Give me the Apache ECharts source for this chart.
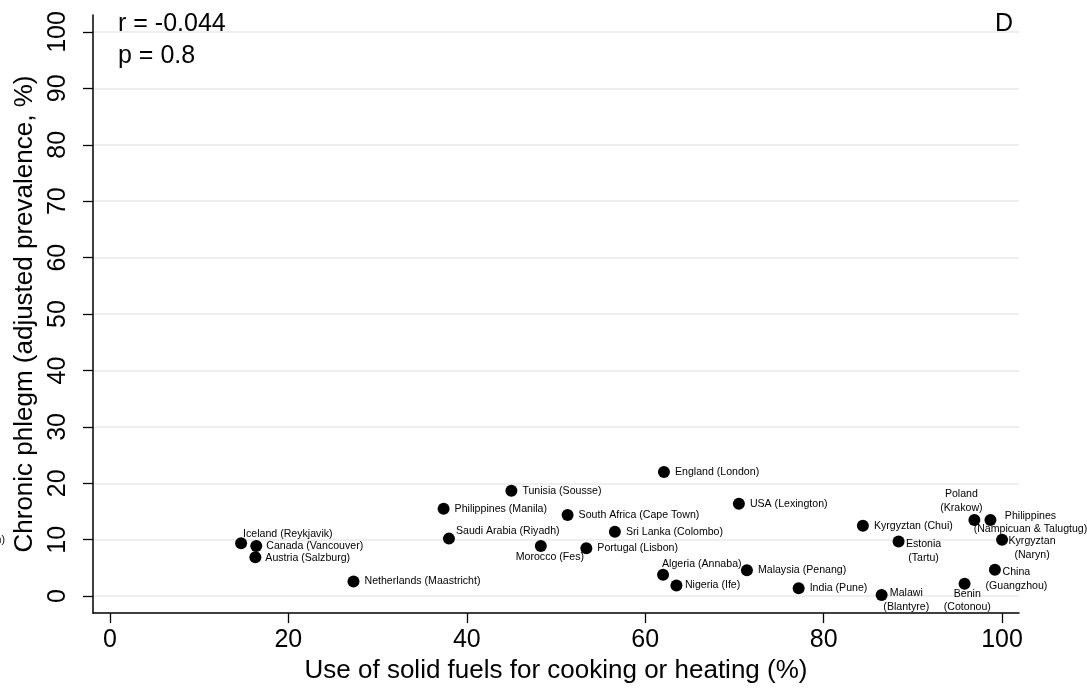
<!DOCTYPE html>
<html><head><meta charset="utf-8">
<script src="https://cdn.jsdelivr.net/npm/echarts@6/dist/echarts.min.js"></script>
<style>html,body{margin:0;padding:0;background:#fff}#c{width:1087px;height:689px}</style>
</head><body><div id="c"></div>
<script>
// ---- data ----
const sites = [
  "Iceland (Reykjavik)", "Canada (Vancouver)", "Austria (Salzburg)", "Netherlands (Maastricht)",
  "Philippines (Manila)", "Saudi Arabia (Riyadh)", "Tunisia (Sousse)", "Morocco (Fes)",
  "South Africa (Cape Town)", "Portugal (Lisbon)", "Sri Lanka (Colombo)", "Algeria (Annaba)",
  "England (London)", "Nigeria (Ife)", "USA (Lexington)", "Malaysia (Penang)", "India (Pune)",
  "Kyrgyztan (Chui)", "Malawi\n(Blantyre)", "Estonia\n(Tartu)", "Benin\n(Cotonou)",
  "Poland\n(Krakow)", "Philippines\n(Nampicuan & Talugtug)", "China\n(Guangzhou)", "Kyrgyztan\n(Naryn)"
];
const solidFuels = [14.7, 16.4, 16.3, 27.3, 37.4, 38.0, 45.0, 48.3, 51.3, 53.4, 56.6, 62.0,
  62.1, 63.5, 70.5, 71.4, 77.2, 84.4, 86.5, 88.4, 95.8, 96.9, 98.7, 99.2, 100.0];
const phlegm = [9.4, 8.9, 6.9, 2.6, 15.5, 10.2, 18.7, 8.9, 14.4, 8.5, 11.4, 3.8,
  22.0, 1.9, 16.4, 4.6, 1.4, 12.5, 0.2, 9.7, 2.2, 13.5, 13.5, 4.7, 10.0];
const xTicks = [0, 20, 40, 60, 80, 100];
const yTicks = [0, 10, 20, 30, 40, 50, 60, 70, 80, 90, 100];
const xTitle = "Use of solid fuels for cooking or heating (%)";
const yTitle = "Chronic phlegm (adjusted prevalence, %)";
const statR = "r = -0.044";
const statP = "p = 0.8";
const panelLetter = "D";
const cutLabel = "n)";

// ---- label placement (style, kept separate from data) ----
const labelDefault = { dx: 11, dy: 0, align: 'left' };
const labelPlacement = {
  "Iceland (Reykjavik)": { dx: 2, dy: -9.5, align: 'left' },
  "Canada (Vancouver)": { dx: 10, dy: 0.5, align: 'left' },
  "Austria (Salzburg)": { dx: 10, dy: 1, align: 'left' },
  "Saudi Arabia (Riyadh)": { dx: 7, dy: -8, align: 'left' },
  "Algeria (Annaba)": { dx: -1, dy: -10.5, align: 'left' },
  "Nigeria (Ife)": { dx: 8.5, dy: 0, align: 'left' },
  "Morocco (Fes)": { dx: 9, dy: 11.5, align: 'center' },
  "Malawi\n(Blantyre)": { dx: 24.7, dy: 5, align: 'center' },
  "Estonia\n(Tartu)": { dx: 25, dy: 9.4, align: 'center' },
  "Benin\n(Cotonou)": { dx: 2.7, dy: 16.7, align: 'center' },
  "Poland\n(Krakow)": { dx: -13, dy: -18.7, align: 'center' },
  "Philippines\n(Nampicuan & Talugtug)": { dx: 40, dy: 2.8, align: 'center' },
  "China\n(Guangzhou)": { dx: 21.5, dy: 9.3, align: 'center' },
  "Kyrgyztan\n(Naryn)": { dx: 30, dy: 8.1, align: 'center' }
};

const FONT = "'Liberation Sans', Arial, Helvetica, sans-serif";

const points = sites.map((name, i) => ({ name: name, value: [solidFuels[i], phlegm[i]] }));

const chart = echarts.init(document.getElementById('c'), null, { renderer: 'canvas' });
chart.setOption({
  backgroundColor: '#ffffff',
  animation: false,
  grid: { left: 93, top: 15, width: 926, height: 606, containLabel: false },
  xAxis: {
    type: 'value', min: -1.9, max: 101.9,
    name: xTitle, nameLocation: 'middle', nameGap: 37,
    nameTextStyle: { fontSize: 26, color: '#000', fontFamily: FONT },
    axisLine: { show: true, onZero: false, lineStyle: { color: '#000', width: 1.5 } },
    axisTick: { show: true, length: 10, lineStyle: { color: '#000', width: 1.3 }, customValues: xTicks },
    axisLabel: { fontSize: 25, color: '#000', margin: 15, fontFamily: FONT, customValues: xTicks },
    splitLine: { show: false }
  },
  yAxis: {
    type: 'value', min: -3, max: 103,
    name: yTitle, nameLocation: 'middle', nameGap: 49,
    nameTextStyle: { fontSize: 26, color: '#000', fontFamily: FONT },
    axisLine: { show: true, onZero: false, lineStyle: { color: '#000', width: 1.5 } },
    axisTick: { show: true, length: 10, lineStyle: { color: '#000', width: 1.3 }, customValues: yTicks },
    axisLabel: { fontSize: 25, color: '#000', margin: 22, rotate: 90, fontFamily: FONT, customValues: yTicks },
    splitLine: { show: true, lineStyle: { color: '#e8e8e8', width: 1.6 } }
  },
  series: [{
    type: 'scatter',
    symbol: 'circle', symbolSize: 12,
    itemStyle: { color: '#000', opacity: 1 },
    emphasis: { disabled: true },
    data: points,
    label: {
      show: true, position: 'inside',
      formatter: p => p.name,
      color: '#000', fontSize: 10.6, lineHeight: 13.5, fontFamily: FONT
    },
    labelLayout: function (params) {
      const name = sites[params.dataIndex];
      const p = labelPlacement[name] || labelDefault;
      const r = params.rect;
      return {
        x: r.x + r.width / 2 + p.dx,
        y: r.y + r.height / 2 + p.dy,
        align: p.align,
        verticalAlign: 'middle',
        hideOverlap: false
      };
    }
  }],
  graphic: [
    { type: 'text', left: 118, top: 12, style: { text: statR, fill: '#000', font: '25px ' + FONT } },
    { type: 'text', left: 118, top: 44, style: { text: statP, fill: '#000', font: '25px ' + FONT } },
    { type: 'text', right: 1087 - 1013, top: 12, style: { text: panelLetter, fill: '#000', font: '25px ' + FONT } },
    { type: 'text', right: 1082, top: 535, style: { text: cutLabel, fill: '#000', font: '10.6px ' + FONT } }
  ]
});
</script>
</body></html>
